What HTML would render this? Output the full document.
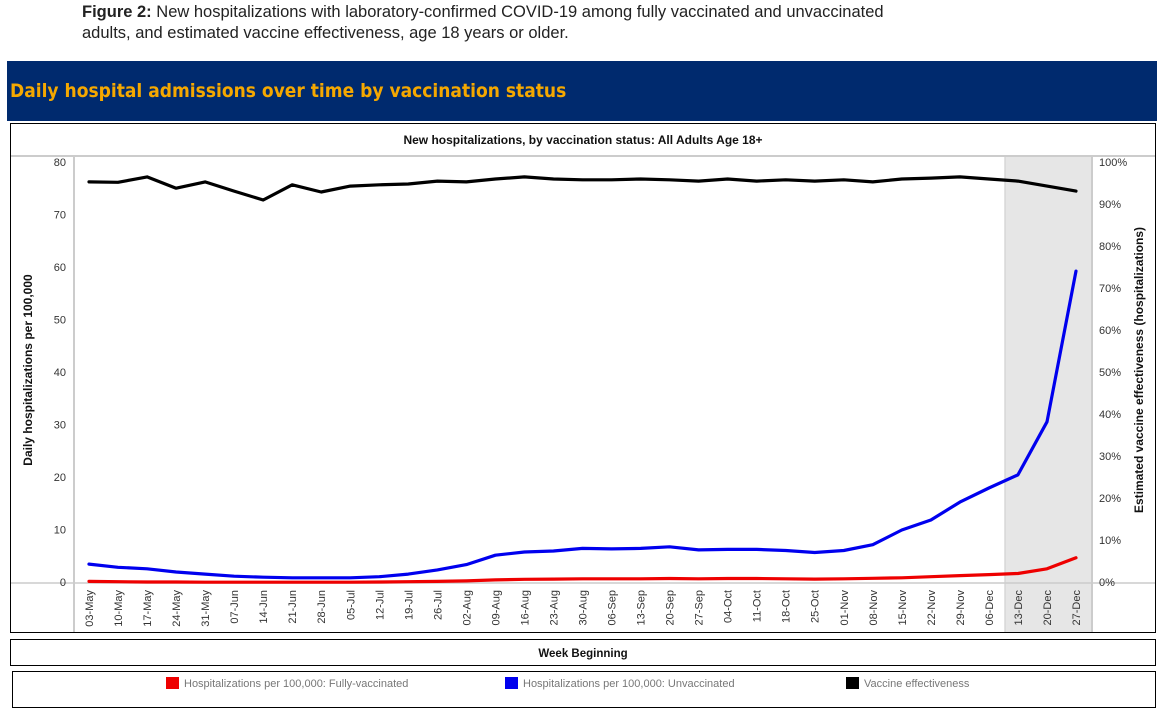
<!DOCTYPE html>
<html><head><meta charset="utf-8"><style>
html,body{margin:0;padding:0;background:#fff;}
body{width:1162px;height:716px;overflow:hidden;position:relative;font-family:"Liberation Sans",sans-serif;}
.cap{position:absolute;left:82px;top:2px;font-size:16.5px;line-height:21px;color:#222;}
.banner{position:absolute;left:7px;top:61px;width:1150px;height:60px;background:#002a6e;}
.banner span{position:absolute;left:3px;top:19px;font-family:"DejaVu Sans Condensed","Liberation Sans Narrow","Liberation Sans",sans-serif;font-weight:bold;font-size:19px;color:#f5a800;}
</style></head><body>
<div class="cap"><b>Figure 2:</b> New hospitalizations with laboratory-confirmed COVID-19 among fully vaccinated and unvaccinated<br>adults, and estimated vaccine effectiveness, age 18 years or older.</div>
<div class="banner"><span>Daily hospital admissions over time by vaccination status</span></div>
<svg id="chart" width="1162" height="716" style="position:absolute;left:0;top:0" font-family="Liberation Sans, sans-serif"></svg>
<script>
const categories=["03-May","10-May","17-May","24-May","31-May","07-Jun","14-Jun","21-Jun","28-Jun","05-Jul","12-Jul","19-Jul","26-Jul","02-Aug","09-Aug","16-Aug","23-Aug","30-Aug","06-Sep","13-Sep","20-Sep","27-Sep","04-Oct","11-Oct","18-Oct","25-Oct","01-Nov","08-Nov","15-Nov","22-Nov","29-Nov","06-Dec","13-Dec","20-Dec","27-Dec"];
const unvaccinated=[3.6,3.0,2.7,2.1,1.7,1.3,1.1,1.0,1.0,1.0,1.2,1.7,2.5,3.5,5.3,5.9,6.1,6.6,6.5,6.6,6.9,6.3,6.4,6.4,6.2,5.8,6.2,7.3,10.1,12.0,15.4,18.1,20.6,30.7,59.4];
const vaccinated=[0.3,0.25,0.2,0.2,0.15,0.15,0.15,0.15,0.15,0.15,0.2,0.25,0.3,0.4,0.6,0.7,0.75,0.8,0.8,0.8,0.85,0.8,0.85,0.85,0.8,0.75,0.8,0.9,1.0,1.2,1.4,1.6,1.8,2.7,4.8];
const effectiveness=[95.5,95.4,96.7,94.0,95.5,93.3,91.2,94.8,93.1,94.5,94.8,95.0,95.7,95.5,96.2,96.7,96.2,96.0,96.0,96.2,96.0,95.7,96.2,95.7,96.0,95.7,96.0,95.5,96.2,96.4,96.7,96.2,95.7,94.5,93.3];
const leftTicks=[0,10,20,30,40,50,60,70,80];
const rightTicks=[0,10,20,30,40,50,60,70,80,90,100];
const shadedFrom="13-Dec";

const svg=document.getElementById('chart');
const NS="http://www.w3.org/2000/svg";
function mk(tag,attrs,parent){const e=document.createElementNS(NS,tag);for(const k in attrs)e.setAttribute(k,attrs[k]);(parent||svg).appendChild(e);return e;}
const x0=89,x1=1076,yZero=583,yTop=163;
const xs=i=>x0+i*(x1-x0)/(categories.length-1);
const yL=v=>yZero-v*(yZero-yTop)/80;
const yR=v=>yZero-v*(yZero-yTop)/100;

let e=mk('rect',{x:10.5,y:123.5,width:1145,height:509,fill:'#fff',stroke:'#000','stroke-width':1});


e=mk('line',{x1:11,x2:1155,y1:156,y2:156,stroke:'#ccc','stroke-width':2});


e=mk('text',{x:583,y:144,'text-anchor':'middle','font-size':12,'font-weight':'bold',fill:'#111'});
e.textContent='New hospitalizations, by vaccination status: All Adults Age 18+';


const si=categories.indexOf(shadedFrom);
e=mk('rect',{x:xs(si)-13,y:157,width:1092-(xs(si)-13),height:475,fill:'#e6e6e6'});


e=mk('line',{x1:xs(si)-13,x2:xs(si)-13,y1:157,y2:632,stroke:'#ccc'});


e=mk('line',{x1:1092,x2:1092,y1:157,y2:632,stroke:'#ccc','stroke-width':2});


e=mk('line',{x1:74,x2:74,y1:157,y2:632,stroke:'#ccc','stroke-width':2});


e=mk('line',{x1:11,x2:1155,y1:yZero,y2:yZero,stroke:'#ccc','stroke-width':1.5});


leftTicks.forEach(t=>{const el=mk('text',{x:66,y:yL(t)+3,'text-anchor':'end','font-size':11,fill:'#333'});el.textContent=t;

});
rightTicks.forEach(t=>{const el=mk('text',{x:1099,y:yR(t)+3,'font-size':11,fill:'#333'});el.textContent=t+'%';

});
e=mk('text',{transform:'translate(32,370) rotate(-90)','text-anchor':'middle','font-size':12,'font-weight':'bold',fill:'#111'});
e.textContent='Daily hospitalizations per 100,000';


e=mk('text',{transform:'translate(1143,370) rotate(-90)','text-anchor':'middle','font-size':12,'font-weight':'bold',fill:'#111'});
e.textContent='Estimated vaccine effectiveness (hospitalizations)';


categories.forEach((c,i)=>{const el=mk('text',{transform:`translate(${xs(i)+4},590) rotate(-90)`,'text-anchor':'end','font-size':11,fill:'#333'});el.textContent=c;

});
function line(vals,f,color,name){const pts=vals.map((v,i)=>xs(i).toFixed(1)+','+f(v).toFixed(1)).join(' ');
const el=mk('polyline',{points:pts,fill:'none',stroke:color,'stroke-width':3.2,'stroke-linejoin':'round','stroke-linecap':'round'});

}
line(effectiveness,yR,'#000','line-vaccine-effectiveness');
line(unvaccinated,yL,'#0000ee','line-unvaccinated');
line(vaccinated,yL,'#ee0000','line-fully-vaccinated');
e=mk('rect',{x:10.5,y:639.5,width:1145,height:26,fill:'#fff',stroke:'#000'});


e=mk('text',{x:583,y:657,'text-anchor':'middle','font-size':11.5,'font-weight':'bold',fill:'#111'});
e.textContent='Week Beginning';


e=mk('rect',{x:12.5,y:671.5,width:1143,height:36,fill:'#fff',stroke:'#000'});


[[166,'#ee0000','Hospitalizations per 100,000: Fully-vaccinated'],[505,'#0000ee','Hospitalizations per 100,000: Unvaccinated'],[846,'#000','Vaccine effectiveness']].forEach(([lx,col,txt])=>{
const sw=mk('rect',{x:lx,y:677,width:13,height:12,fill:col});


const t=mk('text',{x:lx+18,y:687,'font-size':11,fill:'#777'});t.textContent=txt;

});
</script>
</body></html>
